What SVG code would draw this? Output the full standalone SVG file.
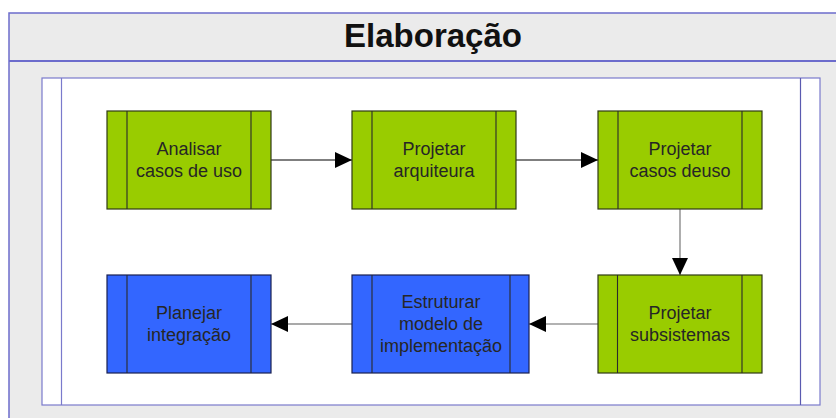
<svg xmlns="http://www.w3.org/2000/svg" width="836" height="418" viewBox="0 0 836 418">
<style>
.frame{fill:#ebebeb;stroke:#6c6ccc;stroke-width:1.5}
.inner{fill:#ffffff;stroke:#7a7acc;stroke-width:1.2}
.green{fill:#99cc00;stroke:#2f3a14;stroke-width:1.2}
.blue{fill:#3366ff;stroke:#1a2050;stroke-width:1.2}
.stripe{stroke:#2b2b2b;stroke-width:1.1;fill:none}
.lbl{font-family:"Liberation Sans",Arial,sans-serif;font-size:18px;fill:#262626;text-anchor:middle}
.title{font-family:"Liberation Sans",Arial,sans-serif;font-size:33px;font-weight:bold;fill:#111;text-anchor:middle}
.conn{fill:none;stroke-width:1.2}
</style>
<defs>
<marker id="ah" markerUnits="userSpaceOnUse" markerWidth="18" markerHeight="16" refX="17" refY="8" orient="auto">
<path d="M0,0 L17,8 L0,16 Z" fill="#000"/>
</marker>
</defs>
<rect width="836" height="418" fill="#ffffff"/>
<g id="frame">
<rect class="frame" x="9" y="13" width="840" height="420"/>
<line x1="9" y1="61" x2="836" y2="61" stroke="#6c6ccc" stroke-width="2.2"/>
<text class="title" x="433" y="47">Elaboração</text>
<rect class="inner" x="42" y="78" width="778" height="327"/>
<line x1="61.5" y1="78" x2="61.5" y2="405" stroke="#7a7acc" stroke-width="1.2"/>
<line x1="800.5" y1="78" x2="800.5" y2="405" stroke="#5a5ab0" stroke-width="1.2"/>
</g>
<g id="connectors">
<line class="conn" x1="271" y1="160" x2="352" y2="160" stroke="#000" marker-end="url(#ah)"/>
<line class="conn" x1="516" y1="160" x2="598" y2="160" stroke="#000" marker-end="url(#ah)"/>
<line class="conn" x1="680" y1="209" x2="680" y2="275" stroke="#777" stroke-width="1.6" marker-end="url(#ah)"/>
<line class="conn" x1="598" y1="324" x2="529" y2="324" stroke="#666" marker-end="url(#ah)"/>
<line class="conn" x1="352" y1="324" x2="271" y2="324" stroke="#555" marker-end="url(#ah)"/>
</g>
<g id="n1">
<rect class="green" x="107" y="111" width="164" height="98"/>
<path class="stripe" d="M127,111V209M251,111V209"/>
<text class="lbl" x="189" y="155">Analisar</text>
<text class="lbl" x="189" y="177">casos de uso</text>
</g>
<g id="n2">
<rect class="green" x="352" y="111" width="164" height="98"/>
<path class="stripe" d="M372,111V209M496,111V209"/>
<text class="lbl" x="434" y="155">Projetar</text>
<text class="lbl" x="434" y="177">arquiteura</text>
</g>
<g id="n3">
<rect class="green" x="598" y="111" width="164" height="98"/>
<path class="stripe" d="M618,111V209M742,111V209"/>
<text class="lbl" x="680" y="155">Projetar</text>
<text class="lbl" x="680" y="177">casos deuso</text>
</g>
<g id="n4">
<rect class="green" x="598" y="275" width="164" height="98"/>
<path class="stripe" d="M617.5,275V373M742,275V373"/>
<text class="lbl" x="680" y="319">Projetar</text>
<text class="lbl" x="680" y="341">subsistemas</text>
</g>
<g id="n5">
<rect class="blue" x="352" y="275" width="177" height="98"/>
<path class="stripe" d="M372,275V373M510,275V373"/>
<text class="lbl" x="441" y="308">Estruturar</text>
<text class="lbl" x="441" y="330">modelo de</text>
<text class="lbl" x="441" y="352">implementação</text>
</g>
<g id="n6">
<rect class="blue" x="107" y="275" width="164" height="98"/>
<path class="stripe" d="M127,275V373M251,275V373"/>
<text class="lbl" x="189" y="319">Planejar</text>
<text class="lbl" x="189" y="341">integração</text>
</g>
</svg>
